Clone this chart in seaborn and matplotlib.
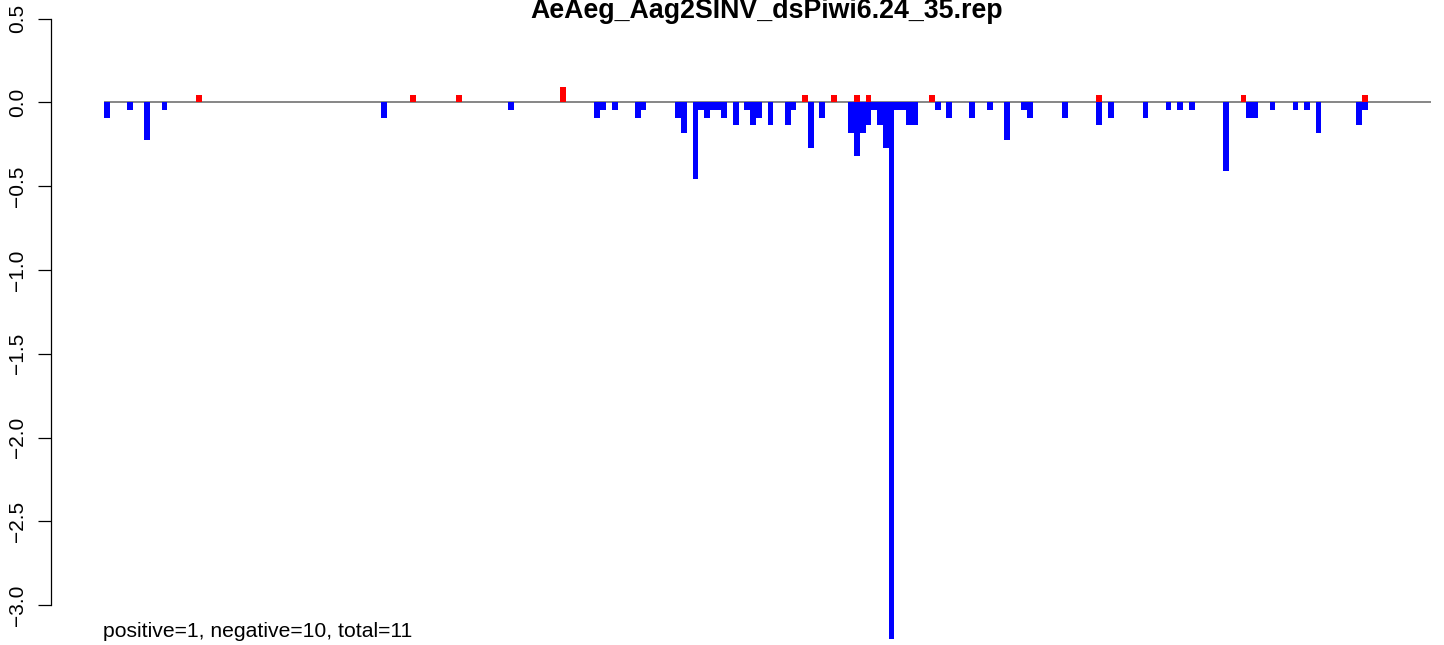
import numpy as np
import pandas as pd
import matplotlib
matplotlib.use("Agg")
import matplotlib.pyplot as plt
import seaborn as sns

# Data (bin index along the reference, value per bin)
title = "AeAeg_Aag2SINV_dsPiwi6.24_35.rep"
note = "positive=1, negative=10, total=11"
n_bins = 230

neg_bins = [0, 4, 7, 10, 48, 70, 85, 86, 88, 92, 93, 99, 100, 102, 103, 104, 105, 106,
            107, 109, 111, 112, 113, 115, 118, 119, 122, 124, 129, 130, 131, 132, 133,
            134, 135, 136, 137, 138, 139, 140, 144, 146, 150, 153, 156, 159, 160, 166,
            172, 174, 180, 184, 186, 188, 194, 198, 199, 202, 206, 208, 210, 217, 218]
neg_vals = [-0.091, -0.045, -0.227, -0.045, -0.091, -0.045, -0.091, -0.045, -0.045,
            -0.091, -0.045, -0.091, -0.182, -0.455, -0.045, -0.091, -0.045, -0.045,
            -0.091, -0.136, -0.045, -0.136, -0.091, -0.136, -0.136, -0.045, -0.273,
            -0.091, -0.182, -0.318, -0.182, -0.136, -0.045, -0.136, -0.273, -3.2,
            -0.045, -0.045, -0.136, -0.136, -0.045, -0.091, -0.091, -0.045, -0.227,
            -0.045, -0.091, -0.091, -0.136, -0.091, -0.091, -0.045, -0.045, -0.045,
            -0.409, -0.091, -0.091, -0.045, -0.045, -0.045, -0.182, -0.136, -0.045]

pos_bins = [16, 53, 61, 79, 121, 126, 130, 132, 143, 172, 197, 218]
pos_vals = [0.045, 0.045, 0.045, 0.091, 0.045, 0.045, 0.045, 0.045, 0.045, 0.045,
            0.045, 0.045]

y_ticks = [0.5, 0.0, -0.5, -1.0, -1.5, -2.0, -2.5, -3.0]

if __name__ == "__main__":
    sns.set_style("white")
    plt.rcParams["font.family"] = ["Liberation Sans", "DejaVu Sans"]
    plt.rcParams["text.color"] = "black"
    plt.rcParams["ytick.color"] = "black"

    bins = np.arange(n_bins)
    df = pd.DataFrame({
        "bin": bins,
        "neg": pd.Series(neg_vals, index=neg_bins).reindex(bins, fill_value=0).values,
        "pos": pd.Series(pos_vals, index=pos_bins).reindex(bins, fill_value=0).values,
    })

    fig = plt.figure(figsize=(14.44, 6.45), dpi=100)
    ax = fig.add_axes([0, 0, 1, 1])

    # baseline under the bars
    ax.hlines(0, -0.5, n_bins - 0.5, color="#666666", lw=1.1, zorder=1)

    sns.barplot(data=df, x="bin", y="neg", native_scale=True, width=1, color="#0000ff",
                saturation=1, errorbar=None, linewidth=0, ax=ax, zorder=2)
    sns.barplot(data=df, x="bin", y="pos", native_scale=True, width=1, color="#ff0000",
                saturation=1, errorbar=None, linewidth=0, ax=ax, zorder=2)

    # pixel layout: bin i starts at 104 + 5.77*i px, y=0 at 102.3 px, 167.6 px per unit
    ax.set_xlim(-104 / 5.77 - 0.5, (1444 - 104) / 5.77 - 0.5)
    ax.set_ylim((102.3 - 645) / 167.6, 102.3 / 167.6)

    for s in ["top", "right", "bottom"]:
        ax.spines[s].set_visible(False)
    ax.spines["left"].set_position(("axes", 51 / 1444))
    ax.spines["left"].set_bounds(-3.0, 0.5)
    ax.spines["left"].set_linewidth(0.9)
    ax.spines["left"].set_color("black")

    ax.set_xticks([])
    ax.set_xlabel("")
    ax.set_ylabel("")
    ax.set_yticks(y_ticks)
    ax.set_yticklabels([f"{v:.1f}".replace("-", "\u2212") for v in y_ticks])
    ax.tick_params(axis="y", length=9.4, width=0.9, color="black", labelcolor="black",
                   pad=8, labelsize=15, labelrotation=90, left=True)
    for lab in ax.get_yticklabels():
        lab.set_va("center")

    fig.text(767 / 1444, 1 - 18.3 / 645, title, ha="center", va="baseline",
             fontsize=19.3, fontweight="bold", color="black")
    fig.text(103 / 1444, 1 - 637 / 645, note, ha="left", va="baseline",
             fontsize=15.2, color="black")

    fig.savefig("out.png", dpi=100)
